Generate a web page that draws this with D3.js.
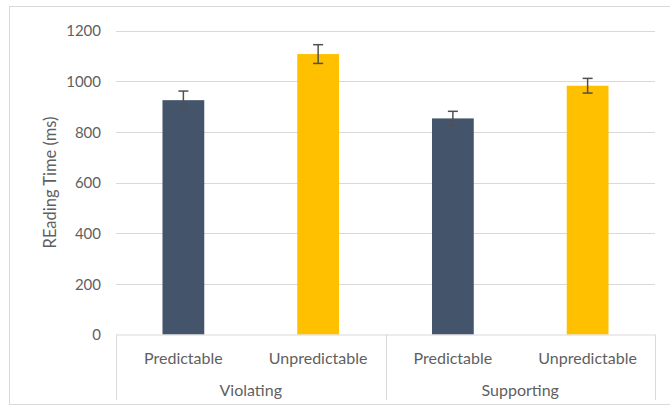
<!DOCTYPE html>
<html><head><meta charset="utf-8">
<script src="https://cdn.jsdelivr.net/npm/d3@7"></script>
<style>
html,body{margin:0;padding:0;background:#fff;}
svg{display:block;font-family:Lato,"Open Sans",sans-serif;}
</style></head>
<body><svg id="chart" width="670" height="408"></svg>
<script>
const groups = ["Violating", "Supporting"];
const conditions = ["Predictable", "Unpredictable"];
const values = [925, 1107, 853, 982];
const errors = [36, 37, 28, 29];
const yTicks = [0, 200, 400, 600, 800, 1000, 1200];
const yTitle = "REading Time (ms)";

const barColors = {"Predictable": "#44546A", "Unpredictable": "#FFC000"};
const data = [];
groups.forEach((g, gi) => conditions.forEach((c, ci) => {
  const i = gi * conditions.length + ci;
  data.push({group: g, cond: c, key: g + "|" + c, value: values[i], err: errors[i]});
}));

const svg = d3.select("#chart");
const mL = 116, mR = 655, mT = 30.5, mB = 334.5;
const textCol = "#5f5f5f";

// outer border
svg.append("rect").attr("x", 9.5).attr("y", 6.5).attr("width", 670).attr("height", 398)
  .attr("fill", "none").attr("stroke", "#d9d9d9").attr("stroke-width", 1);

const x = d3.scaleBand().domain(data.map(d => d.key)).range([mL, mR]).paddingInner(0.69).paddingOuter(0.345);
const xOuter = d3.scaleBand().domain(data.map(d => d.key)).range([mL, mR]);
const xg = d3.scaleBand().domain(groups).range([mL, mR]);
const y = d3.scaleLinear().domain([0, 1200]).range([mB, mT]);

// gridlines
svg.append("g").selectAll("line").data(yTicks.filter(t => t > 0)).join("line")
  .attr("x1", mL).attr("x2", mR)
  .attr("y1", d => Math.round(y(d)) + 0.5).attr("y2", d => Math.round(y(d)) + 0.5)
  .attr("stroke", "#d9d9d9").attr("stroke-width", 1);

// y axis labels
const yAxis = d3.axisLeft(y).tickValues(yTicks).tickFormat(d3.format("d")).tickSize(0).tickPadding(0);
const yg = svg.append("g").attr("transform", `translate(101,0)`).call(yAxis);
yg.select(".domain").remove();
yg.selectAll("text").attr("fill", textCol).style("font-size", "15px").style("font-family", "Lato, sans-serif").attr("dy", "0.35em");

// y title
svg.append("text").attr("transform", `translate(50,${(mT + mB) / 2}) rotate(-90)`)
  .attr("text-anchor", "middle").attr("dy", "0.35em")
  .attr("fill", textCol).style("font-size", "16.5px").text(yTitle);

// bars
svg.append("g").selectAll("rect").data(data).join("rect")
  .attr("x", d => x(d.key)).attr("width", x.bandwidth())
  .attr("y", d => y(d.value)).attr("height", d => y(0) - y(d.value))
  .attr("fill", d => barColors[d.cond]);

// error bars
const eg = svg.append("g").attr("stroke", "#505050").attr("stroke-width", 1.5);
data.forEach(d => {
  const cx = x(d.key) + x.bandwidth() / 2;
  eg.append("line").attr("x1", cx).attr("x2", cx).attr("y1", y(d.value + d.err)).attr("y2", y(d.value - d.err));
  eg.append("line").attr("x1", cx - 5).attr("x2", cx + 5).attr("y1", y(d.value + d.err)).attr("y2", y(d.value + d.err));
  eg.append("line").attr("x1", cx - 5).attr("x2", cx + 5).attr("y1", y(d.value - d.err)).attr("y2", y(d.value - d.err));
});

// category axis line
svg.append("line").attr("x1", mL).attr("x2", mR).attr("y1", mB + 0.5).attr("y2", mB + 0.5)
  .attr("stroke", "#d9d9d9").attr("stroke-width", 1);
// group separators
const seps = [mL].concat(groups.map(g => xg(g) + xg.bandwidth()));
svg.append("g").selectAll("line").data(seps).join("line")
  .attr("x1", d => Math.round(d) + 0.5).attr("x2", d => Math.round(d) + 0.5)
  .attr("y1", mB).attr("y2", 400)
  .attr("stroke", "#d9d9d9").attr("stroke-width", 1);

// condition labels
svg.append("g").selectAll("text").data(data).join("text")
  .attr("x", d => xOuter(d.key) + xOuter.bandwidth() / 2).attr("y", 358).attr("dy", "0.35em")
  .attr("text-anchor", "middle").attr("fill", textCol).style("font-size", "16px")
  .text(d => d.cond);
// group labels
svg.append("g").selectAll("text").data(groups).join("text")
  .attr("x", d => xg(d) + xg.bandwidth() / 2).attr("y", 390).attr("dy", "0.35em")
  .attr("text-anchor", "middle").attr("fill", textCol).style("font-size", "16px")
  .text(d => d);
</script></body></html>
